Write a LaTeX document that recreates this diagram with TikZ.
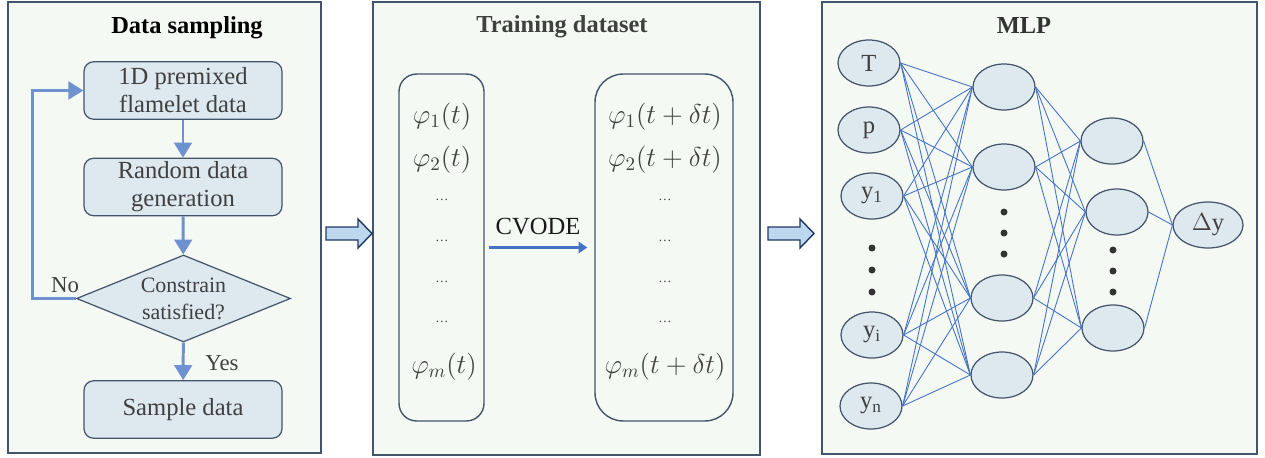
\RequirePackage{fix-cm}
\documentclass[tikz,border=0pt]{standalone}
\usepackage{fontspec}
\setmainfont{Liberation Serif}
\usetikzlibrary{shapes.geometric,arrows.meta}
\definecolor{panelfill}{HTML}{F5F9F4}
\definecolor{panelline}{HTML}{44546A}
\definecolor{boxfill}{HTML}{DEE9EF}
\definecolor{flowblue}{HTML}{6E92CF}
\definecolor{netblue}{HTML}{4472C4}
\definecolor{bigarrowfill}{HTML}{BDD7EE}
\definecolor{bigarrowline}{HTML}{203864}
\definecolor{txtgray}{HTML}{404040}
\begin{document}
\begin{tikzpicture}[x=0.02cm,y=-0.02cm,
  panel/.style={draw=panelline,fill=panelfill,line width=0.85pt,inner sep=0pt},
  ptitle/.style={font=\fontsize{13.9}{16}\selectfont\bfseries,text=black!85},
  fbox/.style={draw=panelline,fill=boxfill,line width=0.7pt,rounded corners=5.5pt,
    minimum width=3.96cm,minimum height=1.15cm,align=center,inner sep=0pt,
    text=txtgray,font=\fontsize{14}{15.9}\selectfont},
  flow/.style={draw=flowblue,line width=1.7pt,-{Triangle[length=8.5pt,width=10pt]}},
  col/.style={draw=panelline,fill=panelfill,line width=0.8pt,inner sep=0pt},
  mtxt/.style={text=txtgray,font=\fontsize{15.5}{18}\selectfont,inner sep=0pt},
  dtxt/.style={text=txtgray,font=\fontsize{7.5}{8}\selectfont,inner sep=0pt},
  neuron/.style={ellipse,draw=panelline,fill=boxfill,line width=0.7pt,
    minimum width=1.24cm,minimum height=0.92cm,inner sep=0pt,
    text=txtgray,font=\fontsize{14}{16}\selectfont},
  link/.style={draw=netblue,line width=0.5pt},
  bigarrow/.style={draw=bigarrowline,fill=bigarrowfill,line width=0.8pt,line join=miter},
  ndot/.style={circle,fill=black!80,minimum size=0.14cm,inner sep=0pt}
]
\useasboundingbox (0,0) rectangle (1265,457);

% panels
\node[panel,minimum width=6.26cm,minimum height=9.02cm] (p1) at (164.5,227.5) {};
\node[panel,minimum width=7.74cm,minimum height=9.06cm] (p2) at (566.5,228.5) {};
\node[panel,minimum width=8.70cm,minimum height=9.04cm] (p3) at (1039.5,228) {};

\node[ptitle,text=black] (t1) at (187,28) {Data sampling};
\node[ptitle,text=black!75] (t2) at (562,27) {Training dataset};
\node[ptitle,text=black!80] (t3) at (1024,26) {MLP};

% block arrows between panels
\draw[bigarrow] (326,227) -- (358,227) -- (358,219) -- (372,233.5) -- (358,248) -- (358,240) -- (326,240) -- cycle;
\draw[bigarrow] (768,227) -- (800,227) -- (800,219) -- (814,233.5) -- (800,248) -- (800,240) -- (768,240) -- cycle;

% ---------- Data sampling flowchart
\node[fbox] (b1) at (183,90.5) {1D premixed\\flamelet data};
\node[fbox] (b2) at (183,187) {Random data\\generation};
\node[diamond,draw=panelline,fill=boxfill,line width=0.7pt,minimum width=4.28cm,minimum height=1.74cm,inner sep=0pt] (d) at (183.5,298.5) {};
\node[align=center,text=txtgray,font=\fontsize{12.5}{15.3}\selectfont,inner sep=0pt] (dt) at (183.5,299) {Constrain\\satisfied?};
\node[fbox] (b3) at (183,409.5) {Sample data};

\draw[flow] (b1) -- (b2);
\draw[flow] (b2) -- (d);
\draw[flow] (d) -- (b3);
\draw[flow] (d.west) -- ++(-43,0) |- (b1.west);
\node[text=txtgray,font=\fontsize{13}{15}\selectfont,inner sep=0pt] (no) at (65,285) {No};
\node[text=txtgray,font=\fontsize{13}{15}\selectfont,inner sep=0pt] (yes) at (222,363) {Yes};

% ---------- Training dataset
\node[col,rounded corners=10pt,minimum width=1.70cm,minimum height=6.94cm] (L) at (441.5,247.5) {};
\node[col,rounded corners=16pt,minimum width=2.76cm,minimum height=6.94cm] (R) at (664,247.5) {};

\node[mtxt] (l1) at (442,117) {$\varphi_1(t)$};
\node[mtxt] (l2) at (442,160) {$\varphi_2(t)$};
\node[dtxt] (l3) at (442,200) {\ldots};
\node[dtxt] (l4) at (442,241) {\ldots};
\node[dtxt] (l5) at (442,282) {\ldots};
\node[dtxt] (l6) at (442,322) {\ldots};
\node[mtxt] (lm) at (444,367) {$\varphi_m(t)$};

\node[mtxt] (r1) at (665,117) {$\varphi_1(t+\delta t)$};
\node[mtxt] (r2) at (665,160) {$\varphi_2(t+\delta t)$};
\node[dtxt] (r3) at (665,200) {\ldots};
\node[dtxt] (r4) at (665,241) {\ldots};
\node[dtxt] (r5) at (665,282) {\ldots};
\node[dtxt] (r6) at (665,322) {\ldots};
\node[mtxt] (rm) at (665,367) {$\varphi_m(t+\delta t)$};

\draw[draw=netblue,line width=1.6pt,-{Triangle[length=5pt,width=6.5pt]},shorten <=2.3pt,shorten >=4pt] (L) -- (R);
\node[text=black!90,font=\fontsize{14}{16}\selectfont,inner sep=0pt] (cv) at (538,227) {CVODE};

% ---------- MLP
\node[neuron] (i1) at (869,63) {T};
\node[neuron] (i2) at (869,130) {p};
\node[neuron] (i3) at (872,196) {y\textsubscript{1}};
\node[neuron] (i4) at (872,335) {y\textsubscript{i}};
\node[neuron] (i5) at (871,406) {y\textsubscript{n}};

\node[neuron] (h1) at (1004,87) {};
\node[neuron] (h2) at (1004,167) {};
\node[neuron] (h3) at (1002,298) {};
\node[neuron] (h4) at (1002,375) {};

\node[neuron] (g1) at (1112,141) {};
\node[neuron] (g2) at (1117,212) {};
\node[neuron] (g3) at (1113,328) {};

\node[neuron,minimum width=1.40cm] (o) at (1208,225) {$\Delta$y};

\foreach \i in {1,...,5}{\foreach \h in {1,...,4}{\draw[link] (i\i.east) -- (h\h.west);}}
\foreach \h in {1,...,4}{\foreach \g in {1,...,3}{\draw[link] (h\h.east) -- (g\g.west);}}
\foreach \g in {1,...,3}{\draw[link] (g\g.east) -- (o.west);}

\foreach \y [count=\k] in {248,270,292}{\node[ndot] (ia\k) at (872,\y) {};}
\foreach \y [count=\k] in {212,233,254}{\node[ndot] (ha\k) at (1004,\y) {};}
\foreach \y [count=\k] in {250,271,292}{\node[ndot] (ga\k) at (1113,\y) {};}
\end{tikzpicture}
\end{document}
